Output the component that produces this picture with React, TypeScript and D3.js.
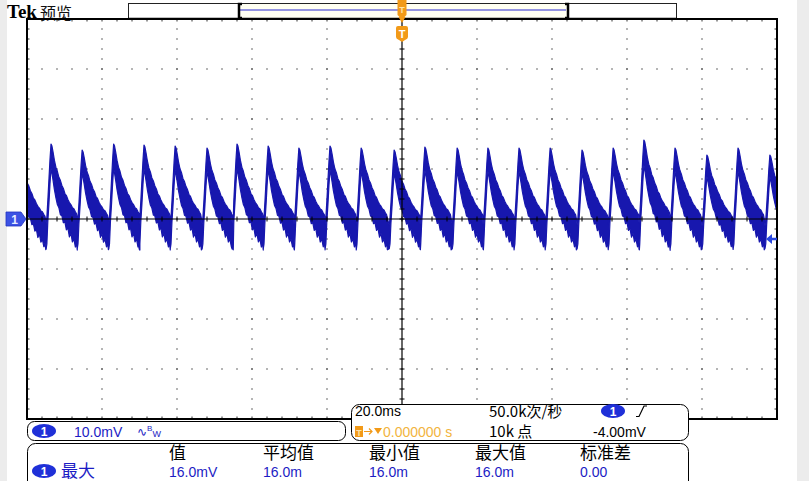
import React, { useEffect } from 'react';
import * as d3 from 'd3';

// ---------------- DATA ----------------
const TIME_DOMAIN_MS: [number, number] = [-100, 100]; // 20.0 ms/div, 10 divisions
const VOLT_DOMAIN_MV: [number, number] = [-40, 40]; // 10.0 mV/div, 8 divisions
const TIME_DIV_MS = 20;
const VOLT_DIV_MV = 10;
const TRIGGER_LEVEL_MV = -4.0;

// Peak times of each ripple cycle (ms, relative to trigger)
const PEAK_TIMES_MS = [
  -102.0, -93.6, -85.3, -76.9, -68.8, -60.5, -52.0, -44.0, -35.7, -27.5, -19.2, -10.9, -2.1,
  6.1, 14.7, 22.9, 31.2, 39.5, 48.0, 56.3, 64.5, 72.8, 81.3, 89.6, 98.1,
];
// Peak value of each cycle (mV)
const PEAK_MV = [
  13.2, 15.0, 13.8, 15.0, 14.8, 14.6, 14.2, 15.0, 14.6, 14.2, 14.6, 14.2, 13.8,
  14.4, 14.2, 14.2, 14.2, 14.2, 13.8, 14.2, 15.8, 14.2, 12.8, 14.2, 12.8,
];
// One ripple cycle: time from peak (ms), upper and lower edge of the noise band (mV)
const CYCLE_T = [-1.3, -1.1, -0.85, -0.55, -0.28, 0.0, 0.25, 0.55, 0.9, 1.3, 1.7, 2.1, 2.5, 2.9, 3.3, 3.7, 4.1, 4.5, 4.9, 5.3, 5.7, 6.1, 6.5, 6.8, 7.0];
const CYCLE_HI = [-1.0, 0.4, 3.6, 7.8, 11.6, 14.8, 14.4, 13.2, 11.6, 10.2, 9.4, 8.2, 7.6, 6.6, 6.0, 5.0, 4.6, 3.8, 3.2, 2.8, 2.2, 2.0, 1.4, 1.0, 0.2];
const CYCLE_LO = [-6.0, -5.0, -0.6, 3.0, 6.8, 10.0, 9.0, 7.6, 5.8, 4.2, 2.8, 2.2, 0.8, 0.6, -0.8, -0.6, -2.2, -1.8, -3.6, -2.8, -4.6, -4.0, -5.6, -4.8, -6.2];
const CYCLE_BASE_MV = -5.0;

const CH_SCALE = '10.0mV';
const TIMEBASE = '20.0ms';
const SAMPLE_RATE = '50.0k次/秒';
const RECORD_LEN = '10k 点';
const TRIG_POS = '0.000000 s';
const TRIG_LEVEL_TEXT = '-4.00mV';
const MEAS_LABEL = '最大';
const MEAS_HEADERS = ['值', '平均值', '最小值', '最大值', '标准差'];
const MEAS_VALUES = ['16.0mV', '16.0m', '16.0m', '16.0m', '0.00'];

// ---------------- LAYOUT ----------------
const W = 809;
const H = 481;
const PL = 27;
const PT = 19;
const PW = 750;
const PH = 400;
const MEAS_X = [169, 263, 369, 475, 580];
const BLUE = '#1717ae';
const TXT_BLUE = '#1c1cc4';
const BADGE = '#1f30d8';
const ORANGE = '#f29a18';
const LATIN = "'Liberation Sans', Arial, sans-serif";
const CJK = "'Noto Sans CJK SC', 'Liberation Sans', sans-serif";

const Badge = ({ cx, cy }: { cx: number; cy: number }) => (
  <g>
    <ellipse cx={cx} cy={cy} rx={12} ry={7} fill={BADGE} />
    <text x={cx} y={cy + 4.5} textAnchor="middle" fontFamily={LATIN} fontWeight="bold" fontSize={12} fill="#fff">1</text>
  </g>
);

export default function App() {
  useEffect(() => {
    document.body.style.margin = '0';
  }, []);

  const x = d3.scaleLinear().domain(TIME_DOMAIN_MS).range([PL, PL + PW]);
  const y = d3.scaleLinear().domain(VOLT_DOMAIN_MV).range([PT + PH, PT]);

  const majorT = d3.range(TIME_DOMAIN_MS[0], TIME_DOMAIN_MS[1] + 0.01, TIME_DIV_MS);
  const minorT = d3.range(TIME_DOMAIN_MS[0], TIME_DOMAIN_MS[1] + 0.01, TIME_DIV_MS / 5);
  const majorV = d3.range(VOLT_DOMAIN_MV[0], VOLT_DOMAIN_MV[1] + 0.01, VOLT_DIV_MV);
  const minorV = d3.range(VOLT_DOMAIN_MV[0], VOLT_DOMAIN_MV[1] + 0.01, VOLT_DIV_MV / 5);

  const dots: [number, number][] = [];
  majorT.forEach((t) => {
    if (Math.abs(t) < 1e-6 || t <= TIME_DOMAIN_MS[0] || t >= TIME_DOMAIN_MS[1]) return;
    minorV.forEach((v) => {
      if (v <= VOLT_DOMAIN_MV[0] || v >= VOLT_DOMAIN_MV[1]) return;
      dots.push([x(t), y(v)]);
    });
  });
  majorV.forEach((v) => {
    if (Math.abs(v) < 1e-6 || v <= VOLT_DOMAIN_MV[0] || v >= VOLT_DOMAIN_MV[1]) return;
    minorT.forEach((t) => {
      if (t <= TIME_DOMAIN_MS[0] || t >= TIME_DOMAIN_MS[1]) return;
      dots.push([x(t), y(v)]);
    });
  });

  // waveform band
  type P = { t: number; hi: number; lo: number };
  const pts: P[] = [];
  PEAK_TIMES_MS.forEach((pt, i) => {
    const k = (PEAK_MV[i] - CYCLE_BASE_MV) / (CYCLE_HI[5] - CYCLE_BASE_MV);
    CYCLE_T.forEach((dt, j) => {
      pts.push({
        t: pt + dt,
        hi: CYCLE_BASE_MV + (CYCLE_HI[j] - CYCLE_BASE_MV) * k,
        lo: CYCLE_BASE_MV + (CYCLE_LO[j] - CYCLE_BASE_MV) * k,
      });
    });
  });
  pts.sort((a, b) => a.t - b.t);
  const area = d3
    .area<P>()
    .x((d) => x(d.t))
    .y0((d) => y(d.lo))
    .y1((d) => y(d.hi))
    .curve(d3.curveLinear);

  const cx0 = x(0);
  const cy0 = y(0);
  const trigY = y(TRIGGER_LEVEL_MV);

  return (
    <svg width={W} height={H} viewBox={`0 0 ${W} ${H}`} style={{ display: 'block' }}>
      <rect x={0} y={0} width={W} height={H} fill="#fff" />
      <rect x={0} y={0} width={7} height={H} fill="#ececec" />
      <rect x={797} y={0} width={12} height={H} fill="#ececec" />

      {/* header */}
      <text x={7} y={18} fontFamily="'Liberation Serif', 'Times New Roman', serif" fontWeight="bold" fontSize={19} fill="#000">Tek</text>
      <text x={40} y={19} fontFamily={CJK} fontSize={16} fill="#111">预览</text>

      {/* record bar */}
      <rect x={128.5} y={3.5} width={548} height={15} fill="#fff" stroke="#222" strokeWidth={1} />
      <rect x={239} y={4} width={328} height={14} fill="#fffff2" />
      <line x1={240} x2={566} y1={10} y2={10} stroke="#2a2ad0" strokeWidth={1.2} />
      <path d="M242,4 L239,4 L239,18 L242,18" fill="none" stroke="#000" strokeWidth={2.5} />
      <path d="M565,4 L568,4 L568,18 L565,18" fill="none" stroke="#000" strokeWidth={2.5} />
      <line x1={128} x2={677} y1={18.5} y2={18.5} stroke="#000" strokeWidth={1.5} />

      {/* graticule dots */}
      {dots.map(([px, py], i) => (
        <rect key={i} x={px - 0.6} y={py - 0.6} width={1.2} height={1.2} fill="#333" />
      ))}
      {/* border ticks */}
      {minorT.map((t, i) => (
        <g key={'bt' + i}>
          <line x1={x(t)} x2={x(t)} y1={PT} y2={PT + 2.5} stroke="#333" strokeWidth={1} />
          <line x1={x(t)} x2={x(t)} y1={PT + PH - 2.5} y2={PT + PH} stroke="#333" strokeWidth={1} />
        </g>
      ))}
      {minorV.map((v, i) => (
        <g key={'bv' + i}>
          <line x1={PL} x2={PL + 2.5} y1={y(v)} y2={y(v)} stroke="#333" strokeWidth={1} />
          <line x1={PL + PW - 2.5} x2={PL + PW} y1={y(v)} y2={y(v)} stroke="#333" strokeWidth={1} />
        </g>
      ))}

      {/* waveform */}
      <defs>
        <clipPath id="plotclip">
          <rect x={PL} y={PT} width={PW} height={PH} />
        </clipPath>
      </defs>
      <g clipPath="url(#plotclip)">
        <path d={area(pts) || ''} fill={BLUE} stroke={BLUE} strokeWidth={1.2} strokeLinejoin="round" />
      </g>

      {/* center crosshair */}
      <line x1={PL} x2={PL + PW} y1={cy0} y2={cy0} stroke="#000" strokeWidth={1.2} />
      <line x1={cx0} x2={cx0} y1={PT} y2={PT + PH} stroke="#000" strokeWidth={1.2} />
      {minorT.map((t, i) => (
        <line key={'ct' + i} x1={x(t)} x2={x(t)} y1={cy0 - 2.5} y2={cy0 + 2.5} stroke="#000" strokeWidth={1} />
      ))}
      {minorV.map((v, i) => (
        <line key={'cv' + i} x1={cx0 - 2.5} x2={cx0 + 2.5} y1={y(v)} y2={y(v)} stroke="#000" strokeWidth={1} />
      ))}

      {/* plot border */}
      <rect x={PL} y={PT} width={PW} height={PH} fill="none" stroke="#000" strokeWidth={2} />

      {/* trigger position markers */}
      <path d={`M${cx0 - 4.5},0 L${cx0 + 4.5},0 L${cx0 + 4.5},15 L${cx0 + 2.5},17 L${cx0 + 3.5},17 L${cx0},23 L${cx0 - 3.5},17 L${cx0 - 2.5},17 L${cx0 - 4.5},15 Z`} fill={ORANGE} />
      <text x={cx0} y={13} textAnchor="middle" fontFamily={LATIN} fontSize={9} fontWeight="bold" fill="#ffe3a8">T</text>
      <path d={`M${cx0 - 6},28 Q${cx0 - 6},26 ${cx0 - 4},26 L${cx0 + 4},26 Q${cx0 + 6},26 ${cx0 + 6},28 L${cx0 + 6},37 Q${cx0 + 6},39 ${cx0 + 3},40 L${cx0},42 L${cx0 - 3},40 Q${cx0 - 6},39 ${cx0 - 6},37 Z`} fill={ORANGE} />
      <text x={cx0} y={38} textAnchor="middle" fontFamily={LATIN} fontSize={11} fontWeight="bold" fill="#fff">T</text>

      {/* channel ground marker */}
      <path d={`M6,${cy0 - 7} L21,${cy0 - 7} L26,${cy0} L21,${cy0 + 7} L6,${cy0 + 7} Z`} fill="#3c52e4" stroke="#2234c0" strokeWidth={0.8} />
      <text x={14.5} y={cy0 + 4.5} textAnchor="middle" fontFamily={LATIN} fontSize={12} fontWeight="bold" fill="#e8ecff">1</text>

      {/* trigger level marker */}
      <path d={`M${PL + PW - 11},${trigY} L${PL + PW - 5},${trigY - 5} L${PL + PW - 5},${trigY - 1.2} L${PL + PW},${trigY - 1.2} L${PL + PW},${trigY + 1.2} L${PL + PW - 5},${trigY + 1.2} L${PL + PW - 5},${trigY + 5} Z`} fill="#2a48e0" />

      {/* channel panel */}
      <rect x={27.5} y={421.5} width={318} height={19} rx={7} fill="#fff" stroke="#000" strokeWidth={1} />
      <Badge cx={44} cy={431} />
      <text x={74} y={437} fontFamily={LATIN} fontSize={14} fill={TXT_BLUE}>{CH_SCALE}</text>
      <text x={137} y={436} fontFamily={LATIN} fill={TXT_BLUE}>
        <tspan fontFamily="'DejaVu Sans', sans-serif" fontSize={12}>∿</tspan>
        <tspan fontSize={8} dy={-5}>B</tspan>
        <tspan fontSize={9} dy={6}>W</tspan>
      </text>

      {/* timebase / trigger panel */}
      <rect x={351.5} y={404.5} width={337} height={36} rx={8} fill="#fff" stroke="#000" strokeWidth={1} />
      <text x={355} y={416} fontFamily={LATIN} fontSize={14} fill="#000">{TIMEBASE}</text>
      <text x={489} y={417} fontFamily={CJK} fontSize={15} fill="#000">{SAMPLE_RATE}</text>
      <Badge cx={613} cy={411} />
      <path d="M636,416.5 L639,416.5 L644,406 L647,406" fill="none" stroke="#000" strokeWidth={1.2} />
      <rect x={355} y={426} width={8} height={11} fill={ORANGE} />
      <text x={359} y={435.5} textAnchor="middle" fontFamily={LATIN} fontSize={9} fontWeight="bold" fill="#ffe3a8">T</text>
      <path d="M364,431.5 L372,431.5 M369,428.5 L372,431.5 L369,434.5" fill="none" stroke={ORANGE} strokeWidth={1.2} />
      <path d="M374,428 L382,428 L378,434 Z" fill={ORANGE} />
      <text x={383} y={437} fontFamily={LATIN} fontSize={14} fill="#f2b440">{TRIG_POS}</text>
      <text x={489} y={437} fontFamily={CJK} fontSize={15} fill="#000">{RECORD_LEN}</text>
      <text x={593} y={437} fontFamily={LATIN} fontSize={14} fill="#000">{TRIG_LEVEL_TEXT}</text>

      {/* measurement panel */}
      <rect x={27.5} y={443.5} width={661} height={50} rx={8} fill="#fff" stroke="#000" strokeWidth={1} />
      {MEAS_HEADERS.map((h, i) => (
        <text key={'h' + i} x={MEAS_X[i]} y={459} fontFamily={CJK} fontSize={17} fill="#000">{h}</text>
      ))}
      <Badge cx={44} cy={471} />
      <text x={61} y={477} fontFamily={CJK} fontSize={17} fill={TXT_BLUE}>{MEAS_LABEL}</text>
      {MEAS_VALUES.map((v, i) => (
        <text key={'v' + i} x={MEAS_X[i]} y={477} fontFamily={LATIN} fontSize={14} fill={TXT_BLUE}>{v}</text>
      ))}
    </svg>
  );
}
